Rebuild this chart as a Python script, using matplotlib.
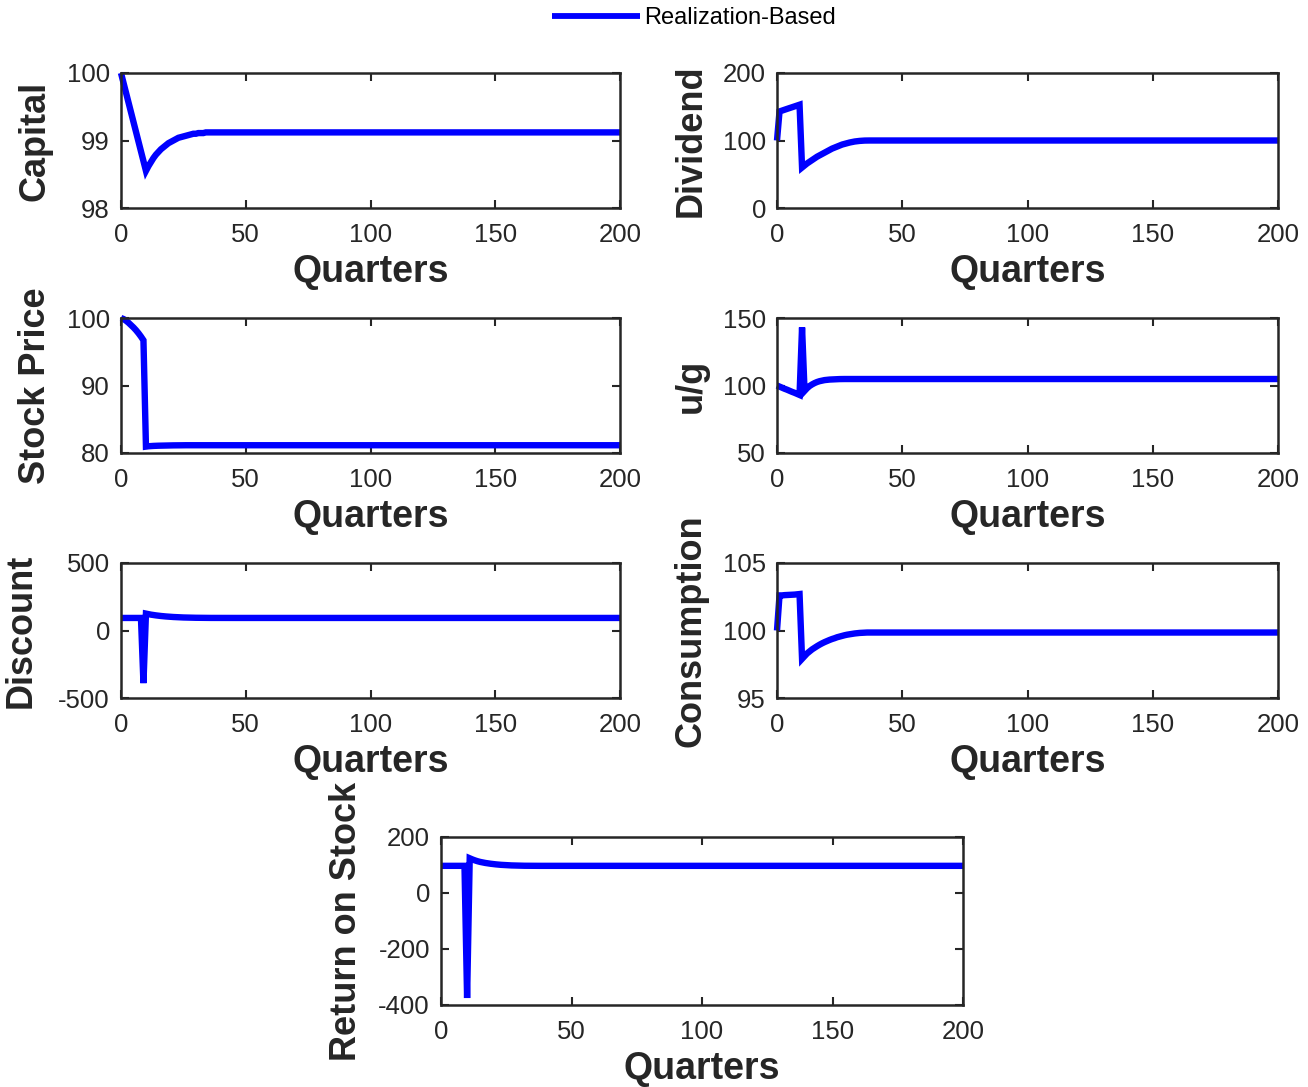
import numpy as np
import matplotlib
matplotlib.use("Agg")
import matplotlib.pyplot as plt

plt.rcParams['font.family'] = ['Liberation Sans', 'DejaVu Sans']
plt.rcParams['axes.unicode_minus'] = False

N_QUARTERS = 201
quarters = np.arange(N_QUARTERS)

# transient values (t = 0, 1, 2, ...) followed by the steady-state level
capital_path = [100.0, 99.855, 99.71, 99.565, 99.42, 99.275, 99.13, 98.985, 98.84, 98.695,
                98.55, 98.62, 98.68, 98.74, 98.79, 98.83, 98.87, 98.90, 98.93, 98.96,
                98.98, 99.00, 99.02, 99.04, 99.05, 99.06, 99.07, 99.08, 99.09, 99.10,
                99.10, 99.11, 99.11, 99.11, 99.12]
capital_ss = 99.12

dividend_path = [100.0, 143.0, 144.3, 145.5, 146.8, 148.0, 149.3, 150.5, 151.8, 153.0,
                 60.0, 63.0, 66.0, 68.5, 71.0, 73.5, 76.0, 78.0, 80.0, 82.0,
                 84.0, 86.0, 88.0, 89.5, 91.0, 92.5, 94.0, 95.0, 96.0, 97.0,
                 97.8, 98.5, 99.0, 99.4, 99.7, 99.9]
dividend_ss = 100.0

stock_path = [100.0, 99.85, 99.6, 99.3, 98.95, 98.6, 98.2, 97.75, 97.25, 96.7,
              80.95, 81.0, 81.03, 81.05, 81.07, 81.08, 81.09, 81.1, 81.1, 81.11,
              81.12, 81.13, 81.13, 81.14, 81.14]
stock_ss = 81.15

ug_path = [100.0, 99.2, 98.4, 97.6, 96.9, 96.1, 95.3, 94.6, 93.8, 93.0,
           143.0, 96.0, 98.0, 99.6, 100.8, 101.8, 102.6, 103.2, 103.6, 104.0,
           104.2, 104.4, 104.5, 104.6, 104.7, 104.75]
ug_ss = 104.8

discount_path = [93.0, 93.0, 93.0, 93.0, 93.0, 93.0, 93.0, 93.0, 93.0, -390.0,
                 125.0, 121.0, 117.5, 114.5, 112.0, 109.5, 107.5, 105.5, 104.0, 102.5,
                 101.2, 100.0, 99.0, 98.0, 97.2, 96.5, 95.9, 95.4, 95.0, 94.6,
                 94.3, 94.0, 93.8, 93.6, 93.4, 93.3, 93.2, 93.1]
discount_ss = 93.0

consumption_path = [100.0, 102.6, 102.6, 102.62, 102.63, 102.64, 102.65, 102.66, 102.68, 102.7,
                    97.9, 98.1, 98.3, 98.45, 98.6, 98.72, 98.84, 98.95, 99.05, 99.14,
                    99.22, 99.3, 99.37, 99.43, 99.5, 99.55, 99.6, 99.65, 99.69, 99.72,
                    99.75, 99.78, 99.8, 99.82, 99.83, 99.84]
consumption_ss = 99.85

return_path = [97.0, 97.0, 97.0, 97.0, 97.0, 97.0, 97.0, 97.0, 97.0, 97.0,
               -375.0, 124.0, 120.0, 116.5, 113.5, 111.0, 109.0, 107.3, 105.8, 104.5,
               103.3, 102.3, 101.4, 100.6, 100.0, 99.4, 98.9, 98.5, 98.2, 97.9,
               97.7, 97.5, 97.3, 97.2, 97.1]
return_ss = 97.0

x_ticks = [0, 50, 100, 150, 200]
panels = [
    ("Capital", capital_path, capital_ss, (98, 100), [98, 99, 100]),
    ("Dividend", dividend_path, dividend_ss, (0, 200), [0, 100, 200]),
    ("Stock Price", stock_path, stock_ss, (80, 100), [80, 90, 100]),
    ("u/g", ug_path, ug_ss, (50, 150), [50, 100, 150]),
    ("Discount", discount_path, discount_ss, (-500, 500), [-500, 0, 500]),
    ("Consumption", consumption_path, consumption_ss, (95, 105), [95, 100, 105]),
    ("Return on Stock", return_path, return_ss, (-400, 200), [-400, -200, 0, 200]),
]
label_pads = [10, 10, 10, 10, 14, 10, 10]

W, H = 1308, 1087
fig = plt.figure(figsize=(W / 100, H / 100), dpi=100)

# axes rectangles in pixels: left, top, right, bottom
rects = [
    (121, 73, 620, 208), (777, 73, 1278, 208),
    (121, 318, 620, 453), (777, 318, 1278, 453),
    (121, 563, 620, 698), (777, 563, 1278, 698),
    (441, 837, 963, 1005),
]

TXT = '#262626'
lines = []
for (name, path, ss, ylim, yticks), (l, t, r, b), lp in zip(panels, rects, label_pads):
    ax = fig.add_axes([l / W, 1 - b / H, (r - l) / W, (b - t) / H])
    series = list(path) + [ss] * (N_QUARTERS - len(path))
    ln, = ax.plot(quarters, series, color='#0000FF', lw=4.6, solid_joinstyle='miter',
                  solid_capstyle='butt', clip_on=False)
    lines.append(ln)
    ax.set_xlim(0, 200)
    ax.set_ylim(*ylim)
    ax.set_xticks(x_ticks)
    ax.set_yticks(yticks)
    ax.tick_params(direction='in', length=6, width=1.5, top=True, right=True,
                   labelsize=18.5, colors=TXT)
    ax.tick_params(axis='x', pad=11)
    ax.tick_params(axis='y', pad=8)
    for s in ax.spines.values():
        s.set_linewidth(1.8)
        s.set_color(TXT)
    ax.set_xlabel("Quarters", fontsize=27, fontweight='bold', color=TXT, labelpad=5)
    ax.set_ylabel(name, fontsize=26, fontweight='bold', color=TXT, labelpad=lp)

leg = fig.legend([lines[0]], ["Realization-Based"], loc='center',
                 bbox_to_anchor=(694 / W, 1 - 18 / H), frameon=False, fontsize=17,
                 handlelength=3.73, handletextpad=0.17, borderpad=0, borderaxespad=0)
for lh in leg.get_lines():
    lh.set_linewidth(4.2)
    lh.set_solid_capstyle('butt')
for tx in leg.get_texts():
    tx.set_color('black')

fig.savefig("out.png", dpi=100)
